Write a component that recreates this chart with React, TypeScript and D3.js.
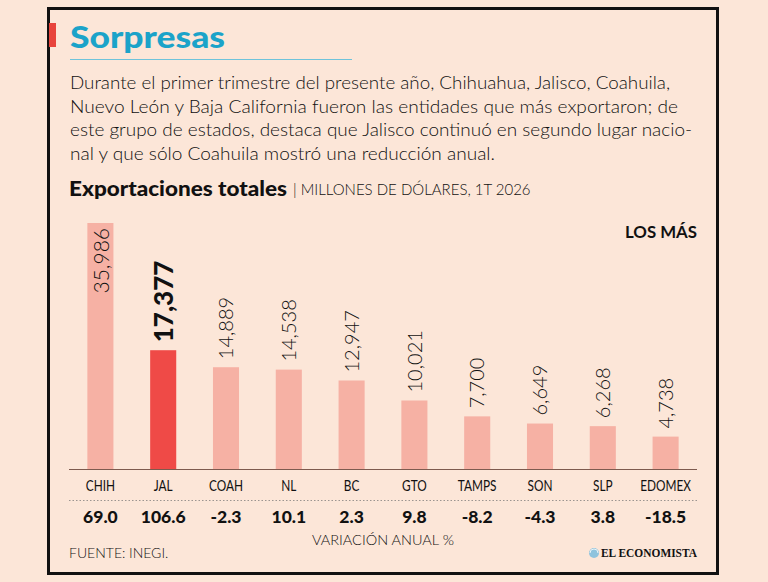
import React from "react";
import * as d3 from "d3";

// Exportaciones totales por entidad, millones de dólares, 1T 2026
const states = ["CHIH", "JAL", "COAH", "NL", "BC", "GTO", "TAMPS", "SON", "SLP", "EDOMEX"];
const exportsMusd = [35986, 17377, 14889, 14538, 12947, 10021, 7700, 6649, 6268, 4738];
const annualChange = [69.0, 106.6, -2.3, 10.1, 2.3, 9.8, -8.2, -4.3, 3.8, -18.5];
const highlighted = "JAL";

const paragraph = [
  "Durante el primer trimestre del presente año, Chihuahua, Jalisco, Coahuila,",
  "Nuevo León y Baja California fueron las entidades que más exportaron; de",
  "este grupo de estados, destaca que Jalisco continuó en segundo lugar nacio-",
  "nal y que sólo Coahuila mostró una reducción anual.",
];
const paragraphWidths = [600, 608, 622, 425];

const W = 768;
const H = 582;
const BG = "#fce6d8";
const INK = "#111";
const LIGHT_BAR = "#f6b1a4";
const HIGHLIGHT_BAR = "#ef4a47";
const FONT = "Lato, 'Open Sans', sans-serif";

export default function App() {
  const x = d3
    .scaleBand<string>()
    .domain(states)
    .range([69, 697])
    .paddingInner(0.585)
    .paddingOuter(0.2925);
  const baseY = 469;
  const y = d3.scaleLinear().domain([0, d3.max(exportsMusd) as number]).range([baseY, 223]);
  const maxVal = d3.max(exportsMusd) as number;
  const fmt = d3.format(",");
  const fmtPct = (v: number) => d3.format(".1f")(v).replace("\u2212", "-");

  return (
    <svg
      width={W}
      height={H}
      viewBox={`0 0 ${W} ${H}`}
      style={{ position: "absolute", left: 0, top: 0, display: "block" }}
    >
      <rect x={0} y={0} width={W} height={H} fill={BG} />
      <rect x={48.5} y={8.5} width={669} height={565} fill={BG} stroke={INK} strokeWidth={3} />

      {/* Title */}
      <rect x={49} y={23} width={7} height={24} fill="#e8443c" />
      <text
        x={70}
        y={48}
        fontFamily={FONT}
        fontWeight={900}
        fontSize={30}
        fill="#1ba3c9"
        textLength={155}
        lengthAdjust="spacingAndGlyphs"
      >
        Sorpresas
      </text>
      <line x1={70} x2={352} y1={59.5} y2={59.5} stroke="#6fc3da" strokeWidth={1} />

      {/* Intro paragraph */}
      {paragraph.map((line, i) => (
        <text
          key={i}
          x={70}
          y={89 + i * 23.5}
          fontFamily={FONT}
          fontWeight={300}
          fontSize={18.5}
          fill={INK}
          textLength={paragraphWidths[i]}
          lengthAdjust="spacingAndGlyphs"
        >
          {line}
        </text>
      ))}

      {/* Chart heading */}
      <text
        x={69}
        y={196}
        fontFamily={FONT}
        fontWeight={900}
        fontSize={20}
        fill={INK}
        textLength={218}
        lengthAdjust="spacingAndGlyphs"
      >
        Exportaciones totales
      </text>
      <text x={293} y={195} fontFamily={FONT} fontWeight={300} fontSize={15} fill={INK}>
        | MILLONES DE DÓLARES, 1T 2026
      </text>
      <text
        x={697}
        y={238}
        textAnchor="end"
        fontFamily={FONT}
        fontWeight={700}
        fontSize={17}
        fill={INK}
        textLength={72}
        lengthAdjust="spacingAndGlyphs"
      >
        LOS MÁS
      </text>

      {/* Bars */}
      {states.map((s, i) => {
        const v = exportsMusd[i];
        const bx = x(s) as number;
        const top = y(v);
        const isHi = s === highlighted;
        return (
          <rect
            key={s}
            x={bx}
            y={top}
            width={x.bandwidth()}
            height={baseY - top}
            fill={isHi ? HIGHLIGHT_BAR : LIGHT_BAR}
          />
        );
      })}

      {/* Value labels, vertical */}
      {states.map((s, i) => {
        const v = exportsMusd[i];
        const cx = (x(s) as number) + x.bandwidth() / 2;
        const top = y(v);
        const isHi = s === highlighted;
        const inside = v === maxVal;
        const ly = inside ? top + 5 : top - 8;
        return (
          <text
            key={s}
            transform={`translate(${cx + (inside ? 1.5 : 0)},${ly}) rotate(-90)`}
            dy="0.36em"
            textAnchor={inside ? "end" : "start"}
            fontFamily={FONT}
            fontWeight={isHi ? 900 : 300}
            fontSize={isHi ? 26 : inside ? 21 : 20}
            fill={INK}
          >
            {fmt(v)}
          </text>
        );
      })}

      {/* Baseline */}
      <line x1={69} x2={697} y1={baseY + 0.5} y2={baseY + 0.5} stroke="#7d5a4e" strokeWidth={1.2} />

      {/* Category labels */}
      {states.map((s) => {
        const cx = (x(s) as number) + x.bandwidth() / 2;
        return (
          <g key={s} transform={`translate(${cx},491) scale(0.74,1)`}>
            <text textAnchor="middle" fontFamily={FONT} fontWeight={400} fontSize={16} fill={INK}>
              {s}
            </text>
          </g>
        );
      })}

      <line
        x1={69}
        x2={697}
        y1={500.5}
        y2={500.5}
        stroke="#9b9490"
        strokeWidth={1}
        strokeDasharray="1.5,2"
      />

      {/* Annual change row */}
      {states.map((s, i) => {
        const cx = (x(s) as number) + x.bandwidth() / 2;
        return (
          <text
            key={s}
            x={cx}
            y={523}
            textAnchor="middle"
            fontFamily={FONT}
            fontWeight={900}
            fontSize={17.5}
            fill={INK}
          >
            {fmtPct(annualChange[i])}
          </text>
        );
      })}
      <text x={383} y={545} textAnchor="middle" fontFamily={FONT} fontWeight={300} fontSize={14.5} fill={INK}>
        VARIACIÓN ANUAL %
      </text>

      {/* Footer */}
      <text x={69} y={558} fontFamily={FONT} fontWeight={300} fontSize={14} fill={INK}>
        FUENTE:
        <tspan x={129}>INEGI.</tspan>
      </text>
      <circle cx={594} cy={553} r={5} fill="#8fc3dd" />
      <path d="M590,553 a4,4 0 0 1 8,0" fill="none" stroke="#e9f3f7" strokeWidth={1} />
      <text
        x={697}
        y={557}
        textAnchor="end"
        fontFamily="'Liberation Serif', 'DejaVu Serif', serif"
        fontWeight={700}
        fontSize={13}
        fill={INK}
        textLength={96}
        lengthAdjust="spacingAndGlyphs"
      >
        EL ECONOMISTA
      </text>
    </svg>
  );
}
